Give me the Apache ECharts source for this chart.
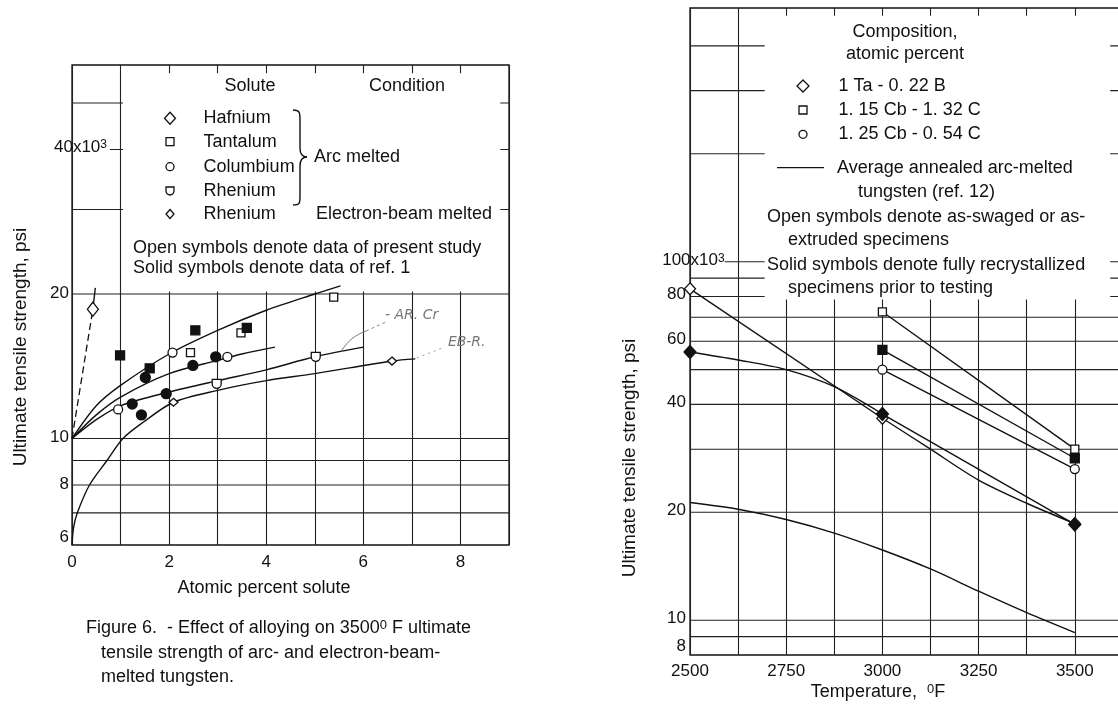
<!DOCTYPE html>
<html><head><meta charset="utf-8">
<script src="https://cdn.jsdelivr.net/npm/echarts@6/dist/echarts.min.js"></script>
<style>html,body{margin:0;padding:0;background:#fff;}#c{width:1118px;height:708px;}</style>
</head><body><div id="c"></div>
<script>
// ---------------- LEFT CHART DATA (x: atomic percent solute, y: UTS ksi) ----------------
const hafniumOpen   = [[0.43, 18.6]];
const hafniumDash   = [[0, 10], [0.43, 18.6]];
const hafniumTop    = [[0.43, 18.6], [0.48, 20.6]];
const tantalumOpen  = [[2.44, 15.1], [3.48, 16.6], [5.39, 19.7]];
const tantalumSolid = [[0.99, 14.9], [1.60, 14.0], [2.54, 16.8], [3.60, 17.0]];
const columbiumOpen = [[0.95, 11.5], [2.07, 15.1], [3.20, 14.8]];
const columbiumSolid= [[1.24, 11.8], [1.43, 11.2], [1.51, 13.4], [1.94, 12.4], [2.49, 14.2], [2.96, 14.8]];
const rheniumArc    = [[2.98, 13.0], [5.02, 14.8]];
const rheniumEB     = [[2.09, 11.9], [6.59, 14.5]];
const curveTa = [[0,10],[0.5,11.7],[1,12.9],[2,15.0],[3,16.8],[4,18.5],[5,20.0],[5.53,20.8]];
const curveCb = [[0,10],[0.5,11.2],[1,12.2],[2,13.65],[3,14.55],[3.5,15.0],[4.18,15.5]];
const curveRe = [[0,10],[0.5,10.95],[1,11.7],[2,12.5],[3,13.2],[4,13.9],[5,14.8],[6,15.5]];
const curveEB = [[0,6.0],[0.03,6.5],[0.11,7.0],[0.36,8.0],[0.72,9.0],[1.05,10.0],[1.46,10.8],[2.09,11.9],[3,12.6],[4,13.2],[5,13.65],[6.59,14.5],[7.07,14.65]];
const leftGridFull = [7, 8, 9, 10, 20, 30, 50];
const leftGridPartial = 40;
const leftYTickLabels = [6, 8, 10, 20];
const leftLegendNames = ['Hafnium', 'Tantalum', 'Columbium', 'Rhenium', 'Rhenium'];

// ---------------- RIGHT CHART DATA (x: temperature F, y: UTS ksi) ----------------
const avgTungsten   = [[2500,21.3],[2625,20.4],[2750,19.1],[2875,17.5],[3000,15.7],[3125,13.9],[3250,12.05],[3375,10.5],[3500,9.24]];
const taBOpen       = [[2500,84],[3000,36.6],[3500,18.6]];
const taBOpenLine1  = [[2500,84],[3000,36.6]];
const taBOpenLine2  = [[3000,36.6],[3125,30.0],[3250,24.6],[3375,21.2],[3500,18.6]];
const taBSolid      = [[2500,56],[3000,37.6],[3500,18.5]];
const taBSolidLine1 = [[2500,56],[2625,53.2],[2750,50.0],[2875,44.8],[3000,37.6]];
const taBSolidLine2 = [[3000,37.6],[3500,18.5]];
const cbCOpen       = [[3000,72.5],[3500,30.0]];
const cbCSolid      = [[3000,56.8],[3500,28.3]];
const cb054Open     = [[3000,50.0],[3500,26.4]];
const rightGridFull = [9, 10, 20, 30, 40, 50, 60, 70, 80, 90, 200, 300, 400];
const rightGridPartial = 100;
const rightYTickLabels = [8, 10, 20, 40, 60, 80];
const rightLegendNames = ['1 Ta - 0. 22 B', '1. 15 Cb - 1. 32 C', '1. 25 Cb - 0. 54 C'];

// ---------------- RENDER ----------------
const FONT = '"Liberation Sans", Arial, Helvetica, sans-serif';
const INK = '#111';
const chart = echarts.init(document.getElementById('c'), null, {renderer: 'canvas'});

function gridLine(data, gi) {
  return {type: 'line', xAxisIndex: gi, yAxisIndex: gi, data, symbol: 'none', silent: true, z: 1,
    lineStyle: {color: '#222', width: 1.1}, animation: false};
}
function curve(data, gi, extra) {
  return Object.assign({type: 'line', xAxisIndex: gi, yAxisIndex: gi, data, symbol: 'none', silent: true, z: 3,
    smooth: 0.3, lineStyle: {color: INK, width: 1.4}, animation: false}, extra || {});
}
function marks(data, gi, symbol, size, filled) {
  return {type: 'scatter', xAxisIndex: gi, yAxisIndex: gi, data, symbol, symbolSize: size, silent: true, z: 4,
    itemStyle: {color: filled ? INK : '#fff', borderColor: INK, borderWidth: 1.3, opacity: 1}, animation: false};
}
const SHIELD = 'path://M0,0 L10,0 L10,5 A5,5 0 0 1 0,5 Z';

const series = [];
leftGridFull.forEach(v => series.push(gridLine([[0, v], [9, v]], 0)));
series.push(gridLine([[0.78, leftGridPartial], [9, leftGridPartial]], 0));
rightGridFull.forEach(v => series.push(gridLine([[2500, v], [3750, v]], 1)));
series.push(gridLine([[2590, rightGridPartial], [3750, rightGridPartial]], 1));

series.push(curve(hafniumDash, 0, {smooth: false, lineStyle: {color: INK, width: 1.3, type: [7, 4]}}));
series.push(curve(hafniumTop, 0, {smooth: false}));
series.push(curve(curveTa, 0));
series.push(curve(curveCb, 0));
series.push(curve(curveRe, 0));
series.push(curve(curveEB, 0));
series.push(marks(hafniumOpen, 0, 'diamond', [11, 14], false));
series.push(marks(tantalumOpen, 0, 'rect', 8, false));
series.push(marks(tantalumSolid, 0, 'rect', 9, true));
series.push(marks(columbiumOpen, 0, 'circle', 9, false));
series.push(marks(columbiumSolid, 0, 'circle', 10, true));
series.push(marks(rheniumArc, 0, SHIELD, [9, 9], false));
series.push(marks(rheniumEB, 0, 'diamond', [9, 8], false));

series.push(curve(avgTungsten, 1));
series.push(curve(taBOpenLine1, 1, {smooth: false}));
series.push(curve(taBOpenLine2, 1));
series.push(curve(taBSolidLine1, 1));
series.push(curve(taBSolidLine2, 1, {smooth: false}));
series.push(curve(cbCOpen, 1, {smooth: false}));
series.push(curve(cbCSolid, 1, {smooth: false}));
series.push(curve(cb054Open, 1, {smooth: false}));
series.push(marks(taBOpen, 1, 'diamond', [11, 12], false));
series.push(marks(taBSolid, 1, 'diamond', [12, 13], true));
series.push(marks(cbCOpen, 1, 'rect', 8, false));
series.push(marks(cbCSolid, 1, 'rect', 9, true));
series.push(marks(cb054Open, 1, 'circle', 9, false));

const xLabel = {fontSize: 17, color: INK, fontFamily: FONT};
chart.setOption({
  animation: false,
  backgroundColor: '#fff',
  grid: [
    {left: 72, top: 65, width: 437, height: 480, show: true, borderColor: INK, borderWidth: 1.3, backgroundColor: 'transparent', outerBoundsMode: 'none', containLabel: false},
    {left: 690, top: 8, width: 481, height: 647, show: true, borderColor: INK, borderWidth: 1.3, backgroundColor: 'transparent', outerBoundsMode: 'none', containLabel: false}
  ],
  xAxis: [
    {gridIndex: 0, type: 'value', min: 0, max: 9, interval: 1,
      axisLine: {show: false}, axisTick: {show: false},
      splitLine: {show: true, lineStyle: {color: '#222', width: 1.1}},
      axisLabel: Object.assign({margin: 9, formatter: v => (v % 2 === 0 ? String(v) : '')}, xLabel)},
    {gridIndex: 1, type: 'value', min: 2500, max: 3750, interval: 125,
      axisLine: {show: false}, axisTick: {show: false},
      splitLine: {show: true, lineStyle: {color: '#222', width: 1.1}},
      axisLabel: Object.assign({margin: 8, formatter: v => ((v - 2500) % 250 === 0 && v <= 3500 ? String(v) : '')}, xLabel)}
  ],
  yAxis: [
    {gridIndex: 0, type: 'log', logBase: 10, min: 6, max: 60,
      axisLine: {show: false}, axisTick: {show: false}, axisLabel: {show: false}, splitLine: {show: false}},
    {gridIndex: 1, type: 'log', logBase: 10, min: 8, max: 510,
      axisLine: {show: false}, axisTick: {show: false}, axisLabel: {show: false}, splitLine: {show: false}}
  ],
  series
});

const P0 = (x, y) => chart.convertToPixel({gridIndex: 0}, [x, y]);
const P1 = (x, y) => chart.convertToPixel({gridIndex: 1}, [x, y]);
function txt(x, y, text, opt) {
  return {type: 'text', x, y, z: 10, silent: true,
    style: Object.assign({text, fill: INK, fontSize: 18, fontFamily: FONT, align: 'left', verticalAlign: 'middle'}, opt || {})};
}
function bez(x1, y1, cpx1, cpy1, cpx2, cpy2, x2, y2, style) {
  return {type: 'bezierCurve', z: 10, silent: true, shape: {x1, y1, cpx1, cpy1, cpx2, cpy2, x2, y2},
    style: Object.assign({fill: null, stroke: INK, lineWidth: 1.4}, style || {})};
}
function seg(x1, y1, x2, y2, style) {
  return {type: 'line', z: 10, silent: true, shape: {x1, y1, x2, y2},
    style: Object.assign({stroke: INK, lineWidth: 1.4}, style || {})};
}
const supRich = (size) => ({a: {fontSize: size, fontFamily: FONT, fill: INK}, s: {fontSize: Math.round(size * 0.7), fontFamily: FONT, fill: INK, verticalAlign: 'top'}});
const g = [];

// white legend boxes (cover gridlines, leave edge ticks)
{
  const a = P0(1.05, 57.7), b = P0(8.82, 20.25);
  g.push({type: 'rect', z: 2, silent: true, shape: {x: a[0], y: a[1], width: b[0] - a[0], height: b[1] - a[1]}, style: {fill: '#fff'}});
  const c = P1(2694, 485), d = P1(3592, 78.5);
  g.push({type: 'rect', z: 2, silent: true, shape: {x: c[0], y: c[1], width: d[0] - c[0], height: d[1] - c[1]}, style: {fill: '#fff'}});
}

// y tick labels (log axes)
leftYTickLabels.forEach(v => {
  const p = P0(0, v);
  const bottom = v === leftYTickLabels[0];
  g.push(txt(p[0] - 3, bottom ? p[1] + 1 : p[1] - 1, String(v), {align: 'right', verticalAlign: bottom ? 'bottom' : 'middle', fontSize: 17}));
});
{
  const p = P0(0.72, leftGridPartial);
  g.push(txt(p[0], p[1] - 2, '{a|' + leftGridPartial + 'x10}{s|3}', {align: 'right', rich: supRich(17)}));
}
rightYTickLabels.forEach(v => {
  const p = P1(2500, v);
  const bottom = v === rightYTickLabels[0];
  g.push(txt(p[0] - 4, bottom ? p[1] : p[1] - 2, String(v), {align: 'right', verticalAlign: bottom ? 'bottom' : 'middle', fontSize: 17}));
});
{
  const p = P1(2590, rightGridPartial);
  g.push(txt(p[0], p[1] - 1, '{a|' + rightGridPartial + 'x10}{s|3}', {align: 'right', rich: supRich(17)}));
}

// axis titles
g.push({type: 'text', x: 21, y: 347, rotation: Math.PI / 2, z: 10, silent: true,
  style: {text: 'Ultimate tensile strength, psi', fill: INK, fontSize: 19, fontFamily: FONT, align: 'center', verticalAlign: 'middle'}});
g.push({type: 'text', x: 630, y: 458, rotation: Math.PI / 2, z: 10, silent: true,
  style: {text: 'Ultimate tensile strength, psi', fill: INK, fontSize: 19, fontFamily: FONT, align: 'center', verticalAlign: 'middle'}});
g.push(txt(264, 588, 'Atomic percent solute', {align: 'center'}));
g.push(txt(878, 692, '{a|Temperature,  }{s|0}{a|F}', {align: 'center', rich: supRich(18)}));

// caption
g.push(txt(86, 628, '{a|Figure 6.  - Effect of alloying on 3500}{s|0}{a| F ultimate}', {rich: supRich(18)}));
g.push(txt(101, 653, 'tensile strength of arc- and electron-beam-'));
g.push(txt(101, 677, 'melted tungsten.'));

// left legend
g.push(txt(250, 86, 'Solute', {align: 'center'}));
g.push(txt(407, 86, 'Condition', {align: 'center'}));
const lRows = [118.3, 141.7, 166.7, 191, 214];
leftLegendNames.forEach((n, i) => g.push(txt(203.6, lRows[i], n)));
const sym = {stroke: INK, lineWidth: 1.3, fill: '#fff'};
const LX = 170;
g.push({type: 'polygon', z: 10, silent: true, shape: {points: [[LX, lRows[0] - 6], [LX + 5.5, lRows[0]], [LX, lRows[0] + 6], [LX - 5.5, lRows[0]]]}, style: sym});
g.push({type: 'rect', z: 10, silent: true, shape: {x: LX - 4, y: lRows[1] - 4, width: 8, height: 8}, style: sym});
g.push({type: 'circle', z: 10, silent: true, shape: {cx: LX, cy: lRows[2], r: 4}, style: sym});
{
  const pts = [[LX - 4, lRows[3] - 4], [LX + 4, lRows[3] - 4]];
  for (let k = 0; k <= 8; k++) { const a = Math.PI * k / 8; pts.push([LX + 4 * Math.cos(a), lRows[3] + 4 * Math.sin(a)]); }
  g.push({type: 'polygon', z: 10, silent: true, shape: {points: pts}, style: sym});
}
g.push({type: 'polygon', z: 10, silent: true, shape: {points: [[LX, lRows[4] - 4.5], [LX + 4, lRows[4]], [LX, lRows[4] + 4.5], [LX - 4, lRows[4]]]}, style: sym});
// curly brace
g.push(bez(293, 110, 300, 110, 300, 113, 300, 120));
g.push(seg(300, 120, 300, 148));
g.push(bez(300, 148, 300, 154, 302, 157, 307, 157));
g.push(bez(307, 157, 302, 157, 300, 160, 300, 166));
g.push(seg(300, 166, 300, 196));
g.push(bez(300, 196, 300, 203, 300, 205, 293, 205));
g.push(txt(314, 157, 'Arc melted'));
g.push(txt(316, 214, 'Electron-beam melted'));
g.push(txt(133, 248.3, 'Open symbols denote data of present study'));
g.push(txt(133, 268.3, 'Solid symbols denote data of ref. 1'));

// handwritten pencil notes
const pencil = {fill: '#777', fontSize: 14, fontStyle: 'italic', fontFamily: '"DejaVu Sans", sans-serif'};
g.push(txt(385, 315, '- AR. Cr', pencil));
g.push(txt(448, 342, 'EB-R.', pencil));
g.push(bez(342, 350, 348, 341, 355, 335, 366, 331, {stroke: '#777', lineWidth: 1}));
g.push(seg(366, 331, 386, 322, {stroke: '#888', lineWidth: 1, lineDash: [3, 3]}));
g.push(seg(417, 358, 442, 348, {stroke: '#999', lineWidth: 1, lineDash: [2, 4]}));

// right legend
g.push(txt(905, 32, 'Composition,', {align: 'center'}));
g.push(txt(905, 54, 'atomic percent', {align: 'center'}));
const rRows = [86, 110, 134.3];
rightLegendNames.forEach((n, i) => g.push(txt(838.6, rRows[i], n)));
const RX = 803;
g.push({type: 'polygon', z: 10, silent: true, shape: {points: [[RX, rRows[0] - 6], [RX + 6, rRows[0]], [RX, rRows[0] + 6], [RX - 6, rRows[0]]]}, style: sym});
g.push({type: 'rect', z: 10, silent: true, shape: {x: RX - 4, y: rRows[1] - 4, width: 8, height: 8}, style: sym});
g.push({type: 'circle', z: 10, silent: true, shape: {cx: RX, cy: rRows[2], r: 4}, style: sym});
g.push(seg(777, 167.7, 824, 167.7, {lineWidth: 1.3}));
g.push(txt(837, 167.7, 'Average annealed arc-melted'));
g.push(txt(858, 192.3, 'tungsten (ref. 12)'));
g.push(txt(767, 216.7, 'Open symbols denote as-swaged or as-'));
g.push(txt(788, 240, 'extruded specimens'));
g.push(txt(767, 265, 'Solid symbols denote fully recrystallized'));
g.push(txt(788, 288.3, 'specimens prior to testing'));

chart.setOption({graphic: {elements: g}});
</script>
</body></html>
